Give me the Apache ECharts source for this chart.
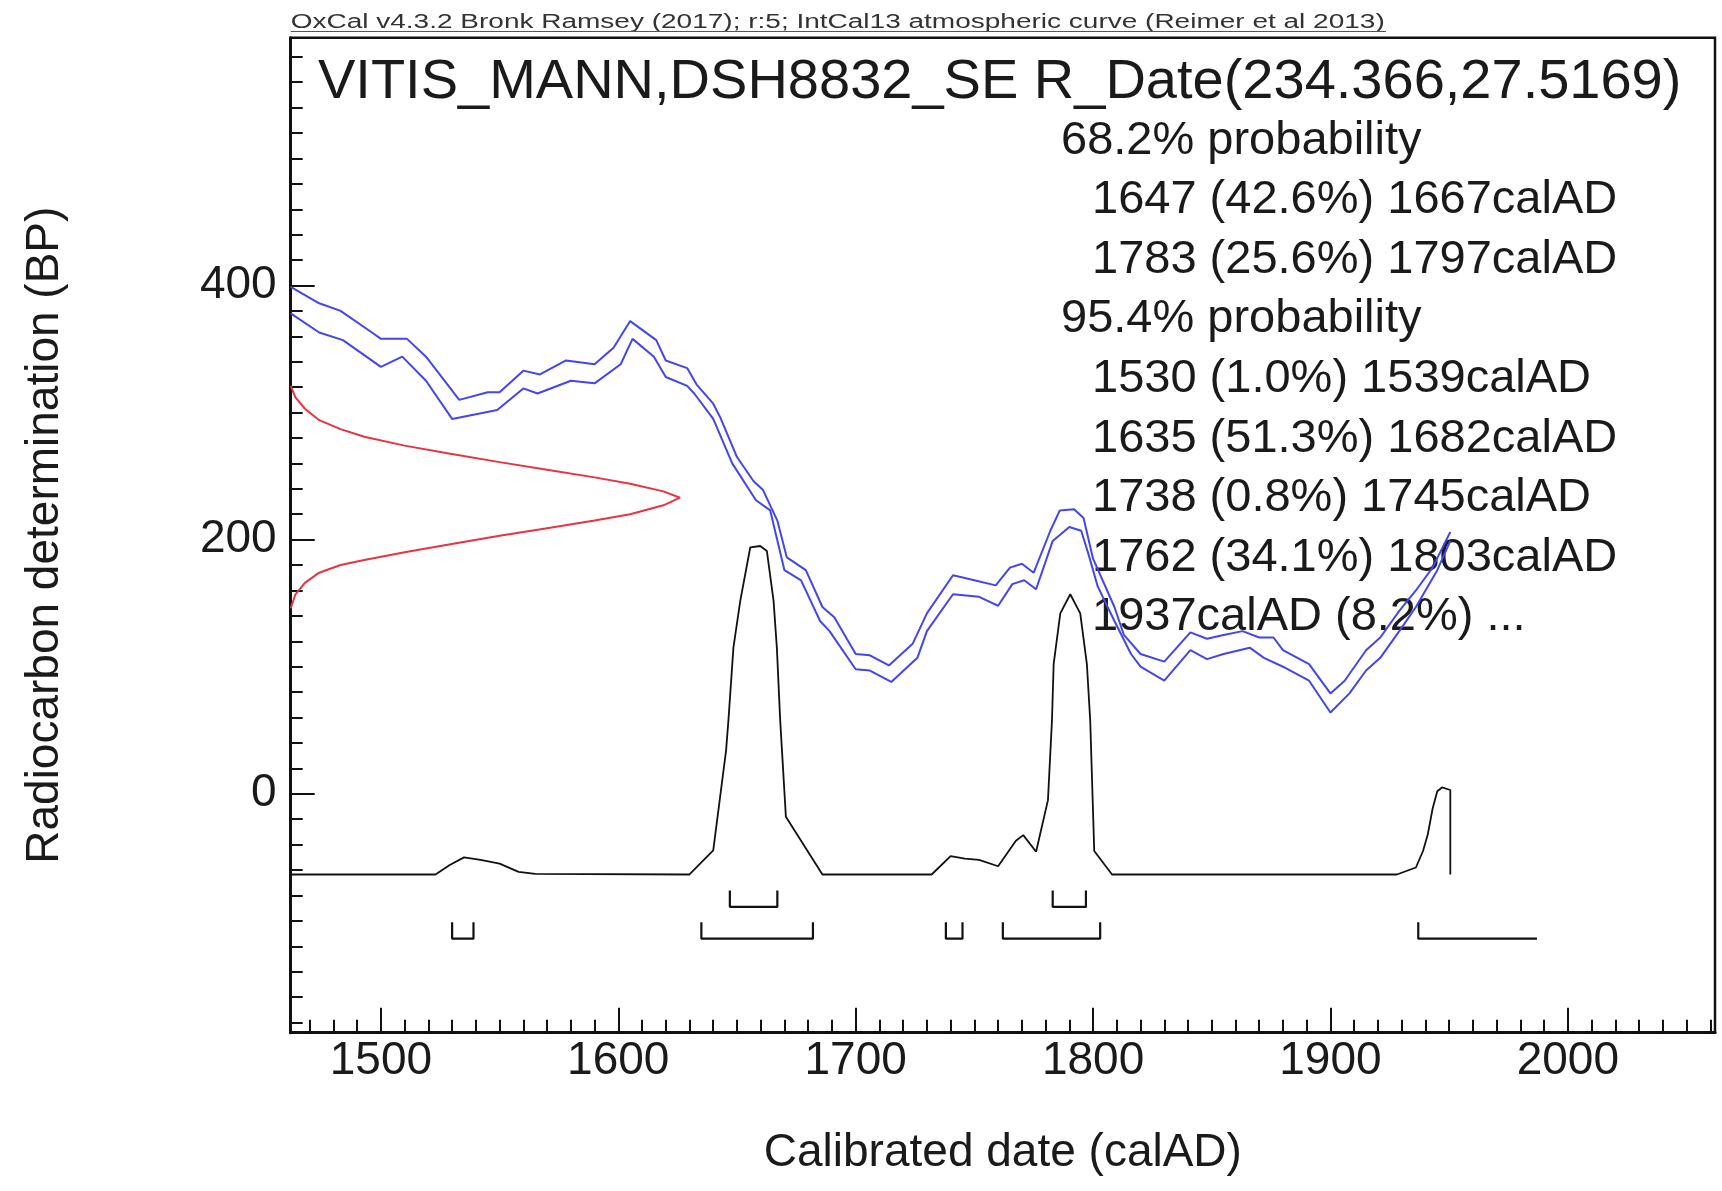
<!DOCTYPE html>
<html><head><meta charset="utf-8">
<script src="https://cdn.jsdelivr.net/npm/echarts@6/dist/echarts.min.js"></script>
<style>html,body{margin:0;padding:0;background:#fff}#c{width:1722px;height:1191px}</style>
</head><body><div id="c"></div>
<script>
// ---- data (calendar year AD, radiocarbon BP) ----
const upperCurve = [[1462,399],[1474,386],[1483,380],[1497,362],[1500,358],[1511,358],[1519,344],[1533,310],[1545,316],[1550,316],[1560,333],[1567,330],[1578,341],[1590,338],[1598,351],[1605,372],[1616,357],[1620,341],[1629,335],[1633,322],[1640,307],[1643,296],[1650,265],[1657,246],[1661,239],[1667,215],[1671,186],[1679,176],[1686,147],[1691,139],[1700,110],[1706,109],[1714,101],[1724,118],[1730,142],[1741,172],[1750,168],[1759,164],[1765,178],[1770,181],[1775,174],[1782,207],[1786,223],[1792,224],[1796,217],[1800,185],[1809,147],[1813,125],[1820,110],[1830,104],[1841,127],[1848,122],[1855,125],[1863,128],[1870,123],[1876,123],[1880,113],[1891,102],[1900,79],[1906,89],[1915,113],[1921,123],[1929,144],[1936,160],[1943,178],[1950.5,206]];
const lowerCurve = [[1462,378],[1474,363],[1484,357],[1500,336],[1509,344],[1519,325],[1530,295],[1549,302],[1560,319],[1566,315],[1580,325],[1590,323],[1601,338],[1606,358],[1615,344],[1620,328],[1629,321],[1632,315],[1640,295],[1648,260],[1658,231],[1664,223],[1670,176],[1677,168],[1685,136],[1689,128],[1700,98],[1706,97],[1715,88],[1726,107],[1730,128],[1741,157],[1752,155],[1760,148],[1766,165],[1771,168],[1776,161],[1783,199],[1790,210],[1795,207],[1798,189],[1802,163],[1809,136],[1816,110],[1820,100],[1830,89],[1841,113],[1848,106],[1855,110],[1866,115],[1872,107],[1880,100],[1891,89],[1900,64],[1908,79],[1915,97],[1921,107],[1929,128],[1936,147],[1945,176],[1950.5,199]];
const measuredDate = [[1462,321],[1464,312],[1468,303],[1474,294],[1483,287],[1493,281],[1510,274],[1528,268],[1550,261],[1570,255],[1590,249],[1605,244],[1619,238],[1626,233],[1619,227],[1605,220],[1590,215],[1570,209],[1550,203],[1528,196],[1510,190],[1493,184],[1483,180],[1474,174],[1468,166],[1464,157],[1462,146]];
const probDist = [[1462,-63.5],[1523,-63.5],[1529,-56],[1535,-50],[1542,-52],[1550,-55],[1558,-61.5],[1565,-63],[1630,-63.5],[1640,-44.6],[1645.4,34],[1646.4,58],[1648.5,115],[1651.4,152],[1655.6,194],[1659.8,195],[1662.6,191],[1665.4,152],[1666.8,115],[1668.2,58],[1670.6,-18],[1686,-63.5],[1732,-63.5],[1740,-49],[1746,-51],[1752,-52],[1760,-57],[1767.5,-37],[1770.6,-32.5],[1776,-45.6],[1781,-5],[1782.7,58],[1783.4,102],[1786.2,142],[1790.4,157],[1794.6,142],[1797.4,102],[1798.8,58],[1800.5,-45],[1808,-63.5],[1928,-63.5],[1936,-58],[1939,-45],[1941,-32],[1943,-12],[1945,2],[1947,5],[1950.5,3],[1950.5,-63.5]];
const range68 = [[1647,1667],[1783,1797]];
const range95 = [[1530,1539],[1635,1682],[1738,1745],[1762,1803]];
const range95Open = [[1937,1987]];
const xMajorTicks = [1500,1600,1700,1800,1900,2000];
const yMajorTicks = [0,200,400];
const titleText = 'VITIS_MANN,DSH8832_SE R_Date(234.366,27.5169)';
const subtitleText = 'OxCal v4.3.2 Bronk Ramsey (2017); r:5; IntCal13 atmospheric curve (Reimer et al 2013)';
const probLines = ['68.2% probability','  1647 (42.6%) 1667calAD','  1783 (25.6%) 1797calAD','95.4% probability','  1530 (1.0%) 1539calAD','  1635 (51.3%) 1682calAD','  1738 (0.8%) 1745calAD','  1762 (34.1%) 1803calAD','  1937calAD (8.2%) ...'];

const xMinorTicks = []; for (let v = 1470; v <= 2060; v += 10) xMinorTicks.push(v);
const yMinorTicks = []; for (let v = -180; v <= 580; v += 20) yMinorTicks.push(v);

const FONT = '"Liberation Sans", Arial, sans-serif';
const X0 = 290.7, Y0 = 37.7, W = 1424.3, H = 995;

function bracketSeries(ranges, top, bottom, open) {
  return ranges.map(r => ({
    type: 'line', symbol: 'none', silent: true,
    lineStyle: { color: '#111', width: 2.2 },
    data: open ? [[r[0], top], [r[0], bottom], [r[1], bottom]]
               : [[r[0], top], [r[0], bottom], [r[1], bottom], [r[1], top]]
  }));
}

const graphics = [];
graphics.push({ type: 'text', x: X0, y: 22, scaleX: 1.4, style: { text: subtitleText, fontSize: 20, fontFamily: FONT, fill: '#333', verticalAlign: 'middle', align: 'left' } });
graphics.push({ type: 'line', shape: { x1: X0, y1: 31.5, x2: 1386, y2: 31.5 }, style: { stroke: '#555', lineWidth: 1.2 } });
graphics.push({ type: 'text', x: 318, y: 83, style: { text: titleText, fontSize: 56, fontFamily: FONT, fill: '#1a1a1a', verticalAlign: 'middle', align: 'left' } });
probLines.forEach((t, i) => {
  const indent = t.startsWith('  ');
  graphics.push({ type: 'text', x: indent ? 1092 : 1061, y: 140.6 + i * 59.6,
    style: { text: t.trim(), fontSize: 47, fontFamily: FONT, fill: '#1a1a1a', verticalAlign: 'middle', align: 'left' } });
});

const plain = v => String(v);
const chart = echarts.init(document.getElementById('c'), null, { renderer: 'canvas' });
chart.setOption({
  animation: false,
  backgroundColor: '#fff',
  grid: { left: X0, top: Y0, width: W, height: H, show: true, borderColor: '#111', borderWidth: 2.5, backgroundColor: 'transparent' },
  xAxis: [
    { type: 'value', min: 1462, max: 2062, position: 'bottom',
      name: 'Calibrated date (calAD)', nameLocation: 'middle', nameGap: 98,
      nameTextStyle: { fontSize: 46, fontFamily: FONT, color: '#1a1a1a' },
      axisLine: { show: true, onZero: false, lineStyle: { color: '#111', width: 3 } },
      axisTick: { show: true, inside: true, length: 25, customValues: xMajorTicks, lineStyle: { color: '#111', width: 2 } },
      axisLabel: { show: true, customValues: xMajorTicks, formatter: plain, fontSize: 46, fontFamily: FONT, color: '#1a1a1a', margin: 6 },
      splitLine: { show: false } },
    { type: 'value', min: 1462, max: 2062, position: 'bottom',
      axisLine: { show: false, onZero: false },
      axisTick: { show: true, inside: true, length: 13, customValues: xMinorTicks, lineStyle: { color: '#111', width: 2 } },
      axisLabel: { show: false }, splitLine: { show: false } }
  ],
  yAxis: [
    { type: 'value', min: -188, max: 595, position: 'left',
      name: 'Radiocarbon determination (BP)', nameLocation: 'middle', nameGap: 222, nameRotate: 90,
      nameTextStyle: { fontSize: 46, fontFamily: FONT, color: '#1a1a1a' },
      axisLine: { show: true, onZero: false, lineStyle: { color: '#111', width: 3 } },
      axisTick: { show: true, inside: true, length: 24, customValues: yMajorTicks, lineStyle: { color: '#111', width: 2 } },
      axisLabel: { show: true, customValues: yMajorTicks, formatter: plain, fontSize: 46, fontFamily: FONT, color: '#1a1a1a', margin: 14 },
      splitLine: { show: false } },
    { type: 'value', min: -188, max: 595, position: 'left',
      axisLine: { show: false, onZero: false },
      axisTick: { show: true, inside: true, length: 12, customValues: yMinorTicks, lineStyle: { color: '#111', width: 2 } },
      axisLabel: { show: false }, splitLine: { show: false } }
  ],
  graphic: graphics,
  series: [
    { type: 'line', name: 'upper', data: upperCurve, symbol: 'none', lineStyle: { color: '#4444f0', width: 2 } },
    { type: 'line', name: 'lower', data: lowerCurve, symbol: 'none', lineStyle: { color: '#4444f0', width: 2 } },
    { type: 'line', name: 'measured', data: measuredDate, symbol: 'none', lineStyle: { color: '#ea3340', width: 2 } },
    { type: 'line', name: 'probability', data: probDist, symbol: 'none', lineStyle: { color: '#111', width: 1.8 } },
    ...bracketSeries(range68, -76, -89, false),
    ...bracketSeries(range95, -101, -114, false),
    ...bracketSeries(range95Open, -101, -114, true)
  ]
});
</script></body></html>
